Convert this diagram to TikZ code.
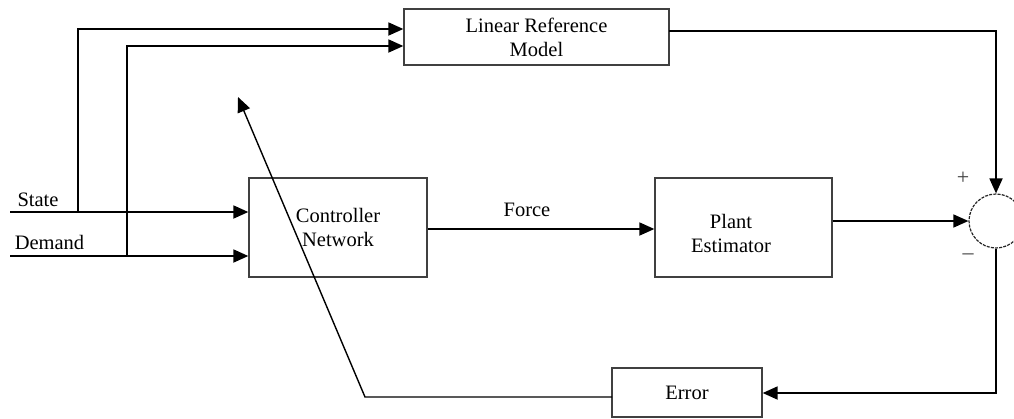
\documentclass[tikz,border=0pt]{standalone}
\usepackage{fontspec}
\setmainfont{Liberation Serif}
\usetikzlibrary{arrows.meta,calc}
\begin{document}
\begin{tikzpicture}[x=1pt,y=-1pt,
  every node/.style={font=\fontsize{20.5}{24}\selectfont, text=black},
  block/.style={draw=black!75, line width=1.3pt, rectangle, inner sep=0pt, align=center},
  conn/.style={draw=black, line width=1.8pt},
  thinconn/.style={draw=black, line width=1.4pt},
  tip/.style={-{Triangle[length=15pt,width=13pt]}},
  sign/.style={font=\fontsize{22}{24}\selectfont, text=black!75, inner sep=0pt}
]
\useasboundingbox (0,0) rectangle (1014,418);
\fill[white] (0,0) rectangle (1014,418);

% blocks
\node[block, minimum width=265pt, minimum height=56pt] (lrm) at (536.5,37) {Linear Reference\\Model};
\node[block, minimum width=178pt, minimum height=99pt] (ctrl) at (338,227.5) {Controller\\Network};
\node[block, minimum width=177pt, minimum height=99pt] (plant) at (743.5,227.5) {};
\node[align=center, inner sep=0pt] (plantlbl) at (731,233) {Plant\\Estimator};
\node[block, minimum width=150pt, minimum height=49pt] (err) at (687,392.5) {Error};
\node[circle, draw=black!85, dash pattern=on 3pt off 1.2pt, line width=1.2pt, minimum size=54pt, inner sep=0pt] (sum) at (996,221) {};

% labels
\node (lstate) at (38,200) {State};
\node (ldemand) at (49.5,242) {Demand};
\node (lforce) at (527,210) {Force};
\node[sign] (plus) at (963,178) {+};
\node[sign] (minus) at (968,257) {\textendash};

% free ends and bends
\coordinate (sIn) at (10,212);
\coordinate (dIn) at (10,256);
\coordinate (sUp) at (78,212);
\coordinate (dUp) at (127,256);
\coordinate (sTop) at (78,29);
\coordinate (dTop) at (127,46);
\coordinate (refOut) at (669,31);
\coordinate (refCorner) at (996,31);
\coordinate (errCorner) at (996,393);
\coordinate (fbOut) at (612,397);
\coordinate (fbBend) at (365,397);
\coordinate (adjTip) at (238,97);

% inputs to the controller
\draw[conn, tip] (sIn) -- (ctrl.west |- sIn);
\draw[conn, tip] (dIn) -- (ctrl.west |- dIn);

% inputs to the reference model
\draw[conn, tip] (sUp) -- (sTop) -- (lrm.west |- sTop);
\draw[conn, tip] (dUp) -- (dTop) -- (lrm.west |- dTop);

% forward path
\draw[conn, tip] (ctrl.east |- 0,229) -- (plant.west |- 0,229);
\draw[thinconn, tip] (plant.east |- sum.west) -- (sum.west);

% reference output to the summing junction
\draw[conn, tip] (refOut) -- (refCorner) -- (sum.north);

% error path
\draw[conn, tip] (sum.south) -- (errCorner) -- (err.east |- errCorner);

% adaptation feedback across the controller
\draw[thinconn, tip] (fbOut) -- (fbBend) -- (adjTip);
\end{tikzpicture}
\end{document}
